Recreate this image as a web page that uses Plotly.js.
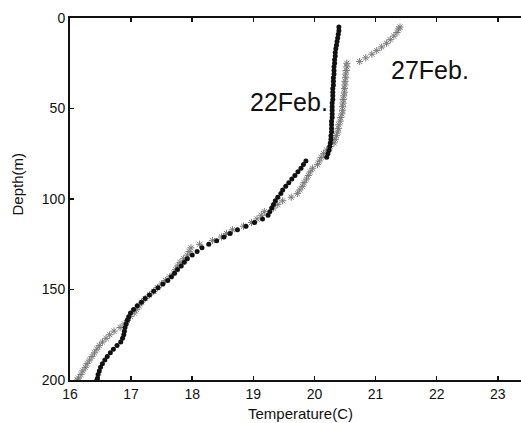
<!DOCTYPE html>
<html>
<head>
<meta charset="utf-8">
<script src="https://cdn.plot.ly/plotly-3.0.1.min.js"></script>
<style>html,body{margin:0;padding:0;background:#fff;}#chart{width:521px;height:423px;}</style>
</head>
<body>
<div id="chart"></div>
<script>
// 22 Feb profile (black dots)
const depth22 = [5,7,9,11,13,15,17,19,21,23,25,27,29,31,33,35,37,39,41,43,45,47,49,51,53,55,57,59,61,63,65,67,69,71,73,75,77,
  79,81,83,85,87,89,91,93,95,97,99,101,103,105,107,109,111,113,115,117,119,121,123,125,127,129,131,133,135,137,139,141,143,145,147,149,
  151,153,155,157,159,161,163,165,167,169,171,173,175,177,179,181,183,185,187,189,191,193,195,197,199,200];
const temp22 = [20.40,20.40,20.39,20.38,20.37,20.36,20.35,20.34,20.34,20.33,20.33,20.32,20.32,20.32,20.31,20.31,20.31,20.30,20.30,20.30,20.30,20.29,20.29,20.29,20.29,20.29,20.28,20.28,20.28,20.28,20.27,20.27,20.26,20.25,20.24,20.22,20.20,
  19.86,19.82,19.78,19.73,19.68,19.63,19.58,19.53,19.48,19.45,19.40,19.36,19.33,19.30,19.27,19.24,19.15,19.02,18.88,18.74,18.62,18.52,18.40,18.27,18.16,18.08,18.00,17.92,17.87,17.82,17.76,17.71,17.66,17.60,17.52,17.44,
  17.37,17.30,17.23,17.17,17.10,17.04,16.99,16.96,16.94,16.92,16.90,16.89,16.88,16.86,16.83,16.77,16.71,16.66,16.61,16.57,16.53,16.50,16.48,16.46,16.45,16.44];

// 27 Feb profile (grey markers)
const depth27 = [5,6,8,10,12,14,16,18,20,22,24,25,27,29,31,33,35,37,39,41,43,45,47,49,51,53,55,57,59,61,63,65,67,69,71,73,75,77,79,81,
  83,85,87,89,91,93,95,97,99,101,103,105,107,109,111,113,115,117,119,121,123,125,127,129,131,133,135,137,139,141,143,145,147,149,
  151,153,155,157,159,161,163,165,167,169,171,173,175,177,179,181,183,185,187,189,191,193,195,197,199,200];
const temp27 = [21.40,21.38,21.35,21.30,21.24,21.18,21.10,21.02,20.94,20.84,20.74,20.53,20.53,20.52,20.51,20.51,20.50,20.50,20.49,20.49,20.48,20.47,20.47,20.46,20.46,20.45,20.43,20.42,20.40,20.39,20.38,20.36,20.34,20.32,20.26,20.20,20.15,20.11,20.08,20.05,
  19.97,19.93,19.90,19.87,19.83,19.80,19.76,19.72,19.62,19.48,19.40,19.33,19.18,19.13,19.06,18.97,18.84,18.66,18.56,18.48,18.33,18.12,17.98,17.95,17.92,17.86,17.80,17.76,17.73,17.70,17.63,17.56,17.50,17.43,
  17.37,17.30,17.23,17.17,17.13,17.09,17.05,16.99,16.94,16.89,16.82,16.72,16.65,16.59,16.53,16.48,16.44,16.40,16.36,16.32,16.28,16.25,16.21,16.18,16.14,16.12];

const xTicks = [16,17,18,19,20,21,22,23];
const yTicks = [0,50,100,150,200];
const labels = [
  {text: '22Feb.', x: 19.58, y: 46.4},
  {text: '27Feb.', x: 21.89, y: 28.7}
];

const FONT = 'Liberation Sans, Arial, Helvetica, sans-serif';

const traces = [
  {
    x: temp27, y: depth27, type: 'scatter', mode: 'markers', name: '27Feb',
    marker: {symbol: 'asterisk-open', size: 6, color: '#7a7a7a', line: {color: '#7a7a7a', width: 1}}
  },
  {
    x: temp22, y: depth22, type: 'scatter', mode: 'markers', name: '22Feb',
    marker: {symbol: 'circle', size: 5, color: '#111'}
  }
];

const annotations = labels.map(l => ({
  text: l.text, x: l.x, y: l.y, xref: 'x', yref: 'y', showarrow: false,
  font: {family: FONT, size: 25, color: '#111'}, xanchor: 'center', yanchor: 'middle'
}));
annotations.push({
  text: 'Temperature(C)', xref: 'paper', yref: 'paper', x: 0.51, y: 0, yanchor: 'middle', yshift: -33,
  showarrow: false, font: {family: FONT, size: 15, color: '#111'}
});
annotations.push({
  text: 'Depth(m)', xref: 'paper', yref: 'paper', x: 0, xanchor: 'center', xshift: -52, y: 0.54, yanchor: 'middle',
  textangle: -90, showarrow: false, font: {family: FONT, size: 15, color: '#111'}
});

const layout = {
  width: 521, height: 423,
  margin: {l: 70, r: 0, t: 18, b: 43, pad: 0},
  paper_bgcolor: '#fff', plot_bgcolor: '#fff',
  showlegend: false,
  font: {family: FONT, size: 14, color: '#111'},
  xaxis: {
    range: [16, 23.38], tickvals: xTicks, ticktext: xTicks.map(String),
    showgrid: false, zeroline: false, showline: true, linecolor: '#111', linewidth: 2,
    mirror: 'ticks', ticks: 'inside', ticklen: 4, tickwidth: 1.5, tickcolor: '#111',
    tickfont: {family: FONT, size: 14, color: '#111'}
  },
  yaxis: {
    range: [200, 0], tickvals: yTicks, ticktext: yTicks.map(String),
    showgrid: false, zeroline: false, showline: true, linecolor: '#111', linewidth: 2,
    mirror: false, ticks: 'inside', ticklen: 4, tickwidth: 1.5, tickcolor: '#111',
    tickfont: {family: FONT, size: 14, color: '#111'}
  },
  annotations: annotations
};

Plotly.newPlot('chart', traces, layout, {displayModeBar: false, staticPlot: true});
</script>
</body>
</html>
